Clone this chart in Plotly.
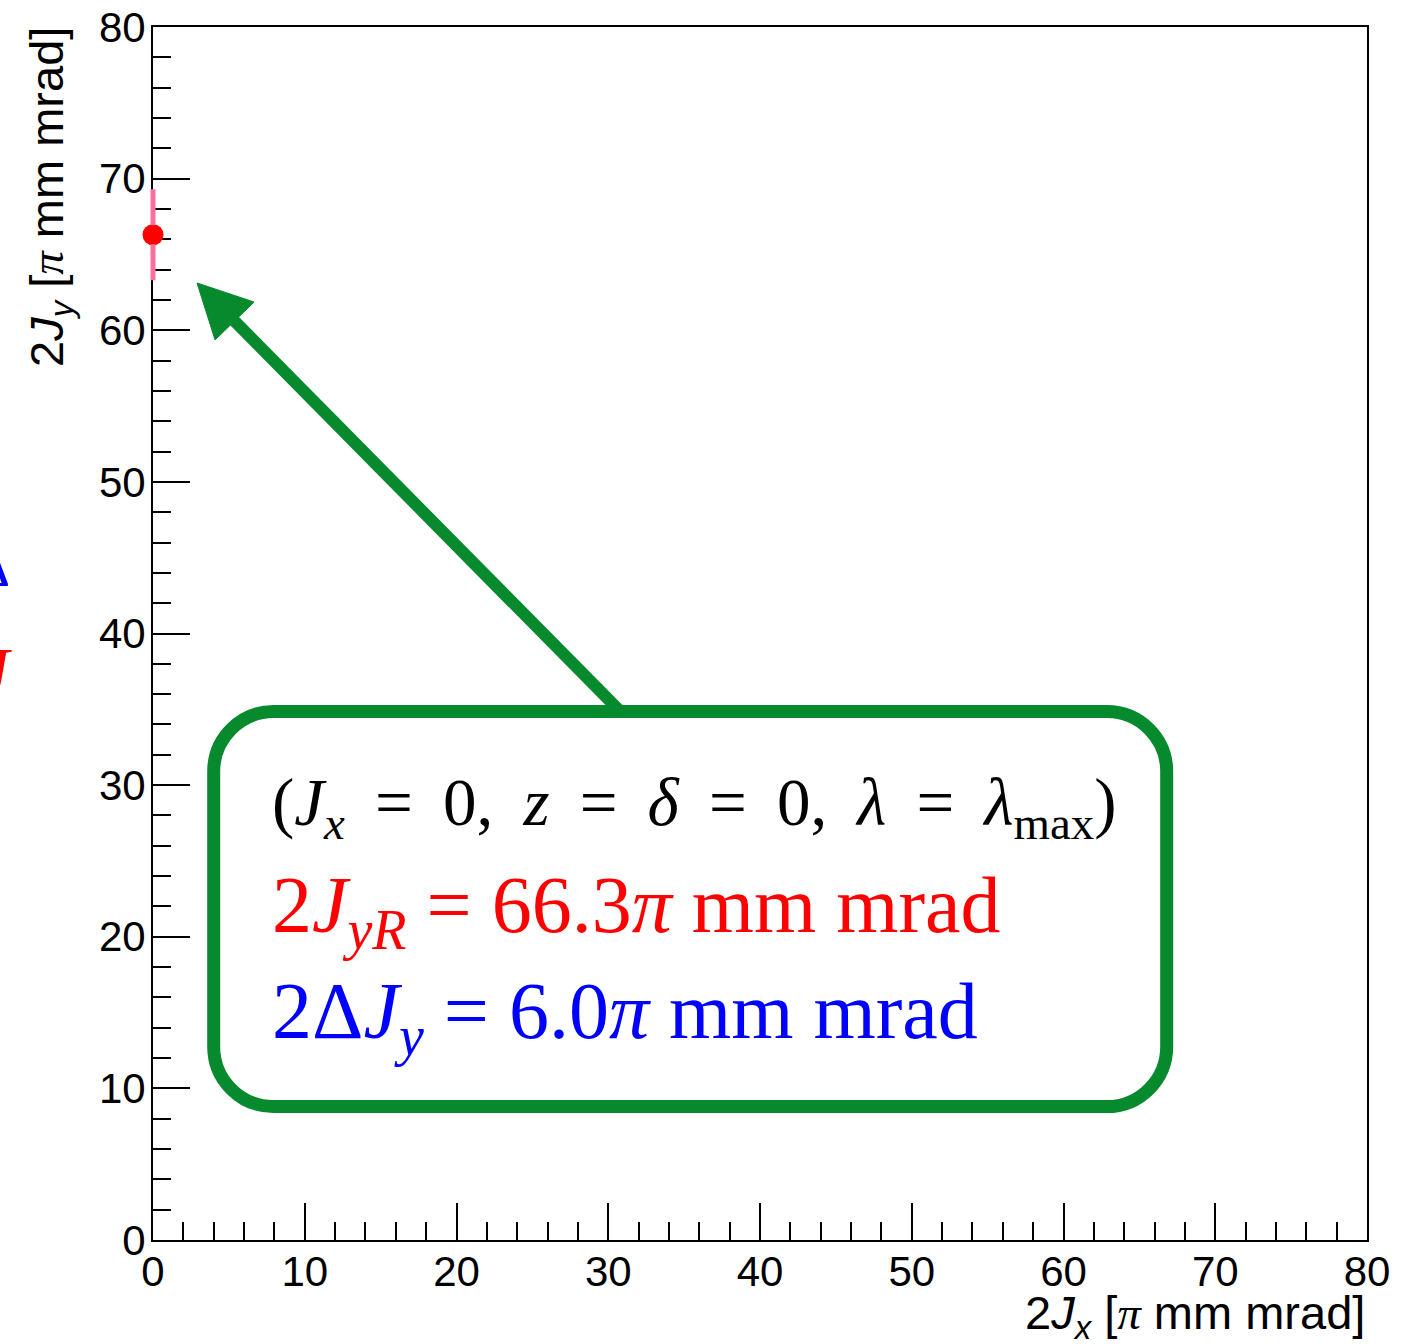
import plotly.graph_objects as go

# ---- data ----
jx = [0.0]          # 2Jx [pi mm mrad]
jy = [66.3]         # 2Jy [pi mm mrad]
djy_half = [3.0]    # half of 2ΔJy = 6.0

x_range = [0, 80]
y_range = [0, 80]
major_ticks = [0, 10, 20, 30, 40, 50, 60, 70, 80]
tick_labels = ["0", "10", "20", "30", "40", "50", "60", "70", "80"]

t = "&#8201;"
info_lines = [
    f"(<i>J</i><sub><i>x</i></sub> {t}={t} 0,{t} <i>z</i> {t}={t} <i>δ</i> {t}={t} 0,{t} "
    f"<i>λ</i> {t}={t} <i>λ</i><sub>max</sub>)",
    "2<i>J</i><sub><i>yR</i></sub> = 66.3<i>π</i> mm mrad",
    "2Δ<i>J</i><sub><i>y</i></sub> = 6.0<i>π</i> mm mrad",
]
info_colors = ["black", "#ff0000", "#0000ff"]

# annotation geometry (data units)
box = dict(x0=4.0, x1=66.8, y0=8.8, y1=34.85, r=3.95)
arrow_tail = (30.8, 34.85)
arrow_tip = (2.90, 63.12)
arrow_left = (4.09, 59.36)
arrow_right = (6.66, 61.86)

W, H = 1408, 1344
L, R, T, B = 153, 41, 27, 104

green = "#07892d"
pink = "#ff6f9c"
marker_size = 21
sans = "Liberation Sans, Arial, sans-serif"
serif = "Liberation Serif, Times New Roman, serif"

fig = go.Figure()

fig.add_trace(go.Scatter(
    x=jx, y=jy, mode="markers",
    marker=dict(color="#ff0000", size=marker_size),
    cliponaxis=False, showlegend=False,
))

# error bar: drawn as unclipped shapes on top of the axis line, leaving the marker visible
plot_h = H - T - B
gap = (marker_size / 2 - 1) / plot_h  # marker radius in domain units
for xv, yv, ev in zip(jx, jy, djy_half):
    xd = (xv - x_range[0]) / (x_range[1] - x_range[0])
    lo = (yv - ev - y_range[0]) / (y_range[1] - y_range[0])
    mid = (yv - y_range[0]) / (y_range[1] - y_range[0])
    hi = (yv + ev - y_range[0]) / (y_range[1] - y_range[0])
    for a, b in [(lo, mid - gap), (mid + gap, hi)]:
        fig.add_shape(type="line", xref="paper", yref="paper", x0=xd, x1=xd, y0=a, y1=b,
                      line=dict(color=pink, width=5), layer="above")

# rounded rectangle path
k = 0.5523
x0, x1, y0, y1, r = box["x0"], box["x1"], box["y0"], box["y1"], box["r"]
path = (
    f"M{x0 + r},{y1} L{x1 - r},{y1} "
    f"C{x1 - r + k * r},{y1} {x1},{y1 - r + k * r} {x1},{y1 - r} "
    f"L{x1},{y0 + r} "
    f"C{x1},{y0 + r - k * r} {x1 - r + k * r},{y0} {x1 - r},{y0} "
    f"L{x0 + r},{y0} "
    f"C{x0 + r - k * r},{y0} {x0},{y0 + r - k * r} {x0},{y0 + r} "
    f"L{x0},{y1 - r} "
    f"C{x0},{y1 - r + k * r} {x0 + r - k * r},{y1} {x0 + r},{y1} Z"
)
fig.add_shape(type="path", path=path, xref="x", yref="y",
              line=dict(color=green, width=13), fillcolor="rgba(0,0,0,0)", layer="above")

# arrow shaft + head
base_mid = ((arrow_left[0] + arrow_right[0]) / 2, (arrow_left[1] + arrow_right[1]) / 2)
fig.add_shape(type="line", xref="x", yref="y",
              x0=arrow_tail[0], y0=arrow_tail[1], x1=base_mid[0] - 0.3, y1=base_mid[1] + 0.3,
              line=dict(color=green, width=12), layer="above")
fig.add_shape(type="path", xref="x", yref="y",
              path=f"M{arrow_tip[0]},{arrow_tip[1]} L{arrow_left[0]},{arrow_left[1]} "
                   f"L{arrow_right[0]},{arrow_right[1]} Z",
              line=dict(color=green, width=1), fillcolor=green, layer="above")

# info text in box
line_y = [28.55, 21.71, 14.68]
line_sizes = [67, 80, 80]
for txt, col, yy, sz in zip(info_lines, info_colors, line_y, line_sizes):
    fig.add_annotation(x=7.71, y=yy, xref="x", yref="y", text=txt, showarrow=False,
                       xanchor="left", yanchor="middle",
                       font=dict(family=serif, size=sz, color=col))

# axis titles
fig.add_annotation(
    text="2<i>J</i><sub><i>y</i></sub> [<span style='font-family:Liberation Serif'><i>π</i></span> mm mrad]",
    xref="paper", yref="paper", x=(50 - L) / (W - L - R), y=1 + 2 / plot_h,
    xanchor="center", yanchor="top", textangle=-90, showarrow=False,
    font=dict(family=sans, size=47, color="black"))
fig.add_annotation(
    text="2<i>J</i><sub><i>x</i></sub> [<span style='font-family:Liberation Serif'><i>π</i></span> mm mrad]",
    xref="paper", yref="paper", x=1.0, y=-(1316 - 1240) / plot_h,
    xanchor="right", yanchor="middle", showarrow=False,
    font=dict(family=sans, size=47, color="black"))

# clipped fragments at the left page edge
fig.add_annotation(text="Δ", xref="paper", yref="paper",
                   x=(12 - L) / (W - L - R), y=(1240 - 567) / plot_h,
                   xanchor="right", yanchor="middle", showarrow=False,
                   font=dict(family=serif, size=56, color="#0000ff"))
fig.add_annotation(text="<i>J</i>", xref="paper", yref="paper",
                   x=(14 - L) / (W - L - R), y=(1240 - 672) / plot_h,
                   xanchor="right", yanchor="middle", showarrow=False,
                   font=dict(family=serif, size=70, color="#ff0000"))

axis_common = dict(
    showline=True, linecolor="black", linewidth=2, mirror=True,
    ticks="inside", ticklen=37, tickwidth=2, tickcolor="black",
    tickmode="array", tickvals=major_ticks, ticktext=tick_labels,
    minor=dict(dtick=2, ticks="inside", ticklen=18, tickwidth=2, tickcolor="black", showgrid=False),
    showgrid=False, zeroline=False, automargin=False, layer="below traces",
    tickfont=dict(family=sans, size=42, color="black"),
)
fig.update_xaxes(range=x_range, ticklabelstandoff=-6, **axis_common)
fig.update_yaxes(range=y_range, ticklabelstandoff=-3, **axis_common)

fig.update_layout(
    width=W, height=H,
    margin=dict(l=L, r=R, t=T, b=B, autoexpand=False),
    paper_bgcolor="white", plot_bgcolor="white",
    showlegend=False,
)
fig.write_html("out.html")
